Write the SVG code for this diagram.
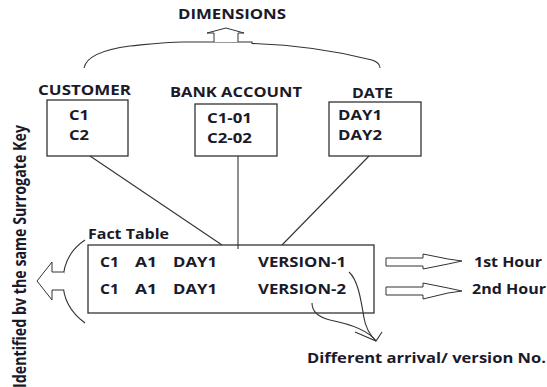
<svg xmlns="http://www.w3.org/2000/svg" width="547" height="387" viewBox="0 0 547 387">
  <style>
    .t { font-family: "Open Sans", Lato, "Liberation Sans", sans-serif; font-weight: bold; fill: #1a1a2a; font-size: 15px; }
    .side { font-size: 17px; font-weight: bold; }
    .box { fill: #ffffff; stroke: #333333; stroke-width: 1.3; }
    .ln { fill: none; stroke: #333333; stroke-width: 1.1; }
    .arw { fill: #ffffff; stroke: #333333; stroke-width: 1; }
  </style>
  <rect width="547" height="387" fill="#ffffff"/>

  <!-- dimensions header with brace and arrow -->
  <g id="dimensions">
    <text class="t" x="178" y="19" textLength="108" lengthAdjust="spacingAndGlyphs">DIMENSIONS</text>
    <path class="ln" d="M84,68 C86,58 100,50 130,46 C150,44 165,42 183,42 L252,42 L252,43.5 C300,45 340,52 372,60 C378,62 380,65 380,68"/>
    <path class="arw" d="M214,42 L214,33 L207,33 L226,28 L244,33 L238,33 L238,42"/>
  </g>

  <g id="customer">
    <text class="t" x="38" y="95" textLength="93" lengthAdjust="spacingAndGlyphs">CUSTOMER</text>
    <rect class="box" x="47" y="100" width="81" height="56"/>
    <text class="t" x="69" y="120" textLength="20" lengthAdjust="spacingAndGlyphs">C1</text>
    <text class="t" x="69" y="140" textLength="20" lengthAdjust="spacingAndGlyphs">C2</text>
  </g>

  <g id="bank-account">
    <text class="t" x="170" y="97" textLength="132" lengthAdjust="spacingAndGlyphs">BANK ACCOUNT</text>
    <rect class="box" x="195" y="104" width="82" height="52"/>
    <text class="t" x="207" y="123" textLength="45" lengthAdjust="spacingAndGlyphs">C1-01</text>
    <text class="t" x="207" y="143" textLength="45" lengthAdjust="spacingAndGlyphs">C2-02</text>
  </g>

  <g id="date">
    <text class="t" x="352" y="98" textLength="41" lengthAdjust="spacingAndGlyphs">DATE</text>
    <rect class="box" x="329" y="102" width="92" height="54"/>
    <text class="t" x="338" y="120" textLength="44" lengthAdjust="spacingAndGlyphs">DAY1</text>
    <text class="t" x="338" y="140" textLength="44" lengthAdjust="spacingAndGlyphs">DAY2</text>
  </g>

  <g id="fact-table">
    <text class="t" x="88" y="239" textLength="81" lengthAdjust="spacingAndGlyphs">Fact Table</text>
    <rect class="box" x="88" y="245" width="286" height="68"/>
    <text class="t" x="100" y="267" textLength="19" lengthAdjust="spacingAndGlyphs">C1</text>
    <text class="t" x="135" y="267" textLength="22" lengthAdjust="spacingAndGlyphs">A1</text>
    <text class="t" x="173" y="267" textLength="44" lengthAdjust="spacingAndGlyphs">DAY1</text>
    <text class="t" x="258" y="267" textLength="88" lengthAdjust="spacingAndGlyphs">VERSION-1</text>
    <text class="t" x="100" y="294" textLength="19" lengthAdjust="spacingAndGlyphs">C1</text>
    <text class="t" x="135" y="294" textLength="22" lengthAdjust="spacingAndGlyphs">A1</text>
    <text class="t" x="173" y="294" textLength="44" lengthAdjust="spacingAndGlyphs">DAY1</text>
    <text class="t" x="258" y="294" textLength="88" lengthAdjust="spacingAndGlyphs">VERSION-2</text>
  </g>

  <!-- surrogate key note on the left -->
  <g id="surrogate-key">
    <path class="ln" d="M85,240 C70,250 63,265 63,282 C63,298 70,312 85,323"/>
    <path class="arw" d="M64,272 L52,272 L52,262 L37,281 L52,300 L52,290 L64,290"/>
    <text class="t side" transform="translate(26,388) rotate(-90)" textLength="263" lengthAdjust="spacingAndGlyphs">Identified bv the same  Surrogate Key</text>
  </g>

  <g id="hour-1">
    <path class="arw" d="M386,258 L423,258 L423,254 L448,259 L462,261 L448,264 L423,269 L423,266 L386,266 Z"/>
    <text class="t" x="474" y="267" textLength="68" lengthAdjust="spacingAndGlyphs">1st Hour</text>
  </g>
  <g id="hour-2">
    <path class="arw" d="M386,287 L423,287 L423,283 L448,288 L462,291 L448,293 L423,299 L423,295 L386,295 Z"/>
    <text class="t" x="472" y="294" textLength="74" lengthAdjust="spacingAndGlyphs">2nd Hour</text>
  </g>

  <g id="version-note">
    <text class="t" x="307" y="363" textLength="239" lengthAdjust="spacingAndGlyphs">Different arrival/ version No.</text>
  </g>

  <g id="connectors">
    <line class="ln" x1="90" y1="156" x2="222" y2="245"/>
    <line class="ln" x1="238" y1="156" x2="238" y2="249"/>
    <line class="ln" x1="369" y1="156" x2="282" y2="245"/>
    <path class="ln" d="M349,272 C358,280 361,300 364,318 C366,330 372,337 376,341"/>
    <path class="ln" d="M312,303 C312,312 318,317 330,320 C350,324 368,330 376,341"/>
    <path class="ln" d="M355,332 L376,341 L382,332"/>
  </g>
</svg>
